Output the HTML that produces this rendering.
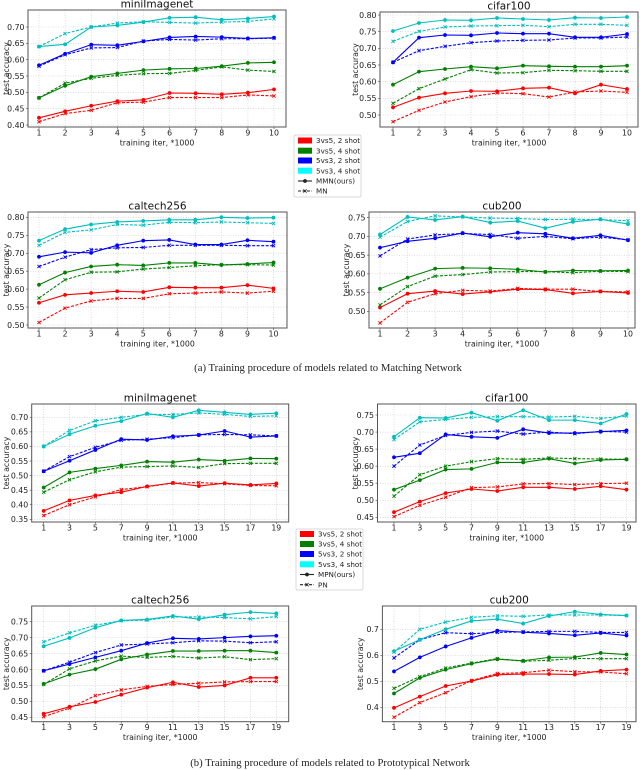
<!DOCTYPE html>
<html><head><meta charset="utf-8">
<style>
html,body{margin:0;padding:0;background:#fff;}
svg{display:block;font-family:"DejaVu Sans","Liberation Sans",sans-serif;}
</style></head>
<body>
<svg id="fig" width="640" height="770" viewBox="0 0 640 770" xmlns="http://www.w3.org/2000/svg"></svg>
<script>
// ---------- data ----------
const itersA = [1,2,3,4,5,6,7,8,9,10];
const itersB = [1,3,5,7,9,11,13,15,17,19];
const seriesNames = ["3vs5, 2 shot","3vs5, 4 shot","5vs3, 2 shot","5vs3, 4 shot"];

// (a) miniImagenet
const a_mini_red_ours = [.422,.442,.459,.473,.477,.498,.497,.494,.499,.509];
const a_mini_red_base = [.410,.435,.445,.468,.470,.484,.484,.484,.492,.489];
const a_mini_green_ours = [.483,.520,.548,.558,.568,.572,.573,.580,.590,.592];
const a_mini_green_base = [.483,.528,.543,.552,.557,.558,.567,.578,.568,.564];
const a_mini_blue_ours = [.583,.618,.646,.644,.656,.668,.671,.669,.665,.667];
const a_mini_blue_base = [.580,.615,.636,.637,.657,.662,.660,.664,.664,.666];
const a_mini_cyan_ours = [.640,.647,.700,.705,.715,.728,.730,.722,.726,.732];
const a_mini_cyan_base = [.640,.680,.700,.712,.716,.714,.712,.715,.717,.725];
const a_mini_ticks = [0.40,0.45,0.50,0.55,0.60,0.65,0.70];
// (a) cifar100
const a_cifar_red_ours = [.523,.552,.565,.572,.571,.580,.582,.565,.591,.578];
const a_cifar_red_base = [.480,.514,.539,.555,.566,.564,.554,.569,.572,.568];
const a_cifar_green_ours = [.591,.630,.638,.645,.640,.648,.646,.645,.645,.648];
const a_cifar_green_base = [.535,.579,.608,.636,.626,.627,.634,.633,.631,.631];
const a_cifar_blue_ours = [.658,.732,.740,.739,.746,.744,.744,.733,.733,.743];
const a_cifar_blue_base = [.658,.693,.706,.717,.722,.724,.725,.731,.731,.734];
const a_cifar_cyan_ours = [.752,.776,.785,.784,.791,.788,.785,.792,.791,.794];
const a_cifar_cyan_base = [.721,.751,.764,.767,.768,.769,.765,.772,.772,.769];
const a_cifar_ticks = [0.50,0.55,0.60,0.65,0.70,0.75,0.80];
// (a) caltech256
const a_cal_red_ours = [.562,.584,.589,.594,.592,.605,.604,.604,.611,.602];
const a_cal_red_base = [.507,.547,.567,.574,.574,.587,.589,.592,.589,.594];
const a_cal_green_ours = [.612,.646,.663,.668,.666,.673,.673,.667,.670,.674];
const a_cal_green_base = [.575,.626,.647,.648,.656,.660,.665,.668,.668,.667];
const a_cal_blue_ours = [.690,.703,.701,.722,.735,.737,.724,.724,.736,.732];
const a_cal_blue_base = [.663,.689,.710,.715,.716,.722,.722,.722,.721,.721];
const a_cal_cyan_ours = [.735,.767,.780,.787,.790,.793,.793,.800,.798,.799];
const a_cal_cyan_base = [.722,.758,.765,.780,.778,.786,.785,.787,.785,.783];
const a_cal_ticks = [0.50,0.55,0.60,0.65,0.70,0.75,0.80];
// (a) cub200
const a_cub_red_ours = [.510,.547,.554,.546,.552,.559,.558,.548,.553,.549];
const a_cub_red_base = [.469,.524,.547,.556,.554,.561,.559,.559,.553,.552];
const a_cub_green_ours = [.560,.590,.614,.616,.615,.612,.605,.609,.608,.609];
const a_cub_green_base = [.517,.566,.594,.598,.605,.606,.606,.603,.607,.606];
const a_cub_blue_ours = [.670,.687,.695,.709,.699,.710,.707,.695,.703,.690];
const a_cub_blue_base = [.648,.693,.704,.708,.705,.695,.700,.694,.698,.691];
const a_cub_cyan_ours = [.705,.752,.744,.753,.737,.741,.722,.739,.746,.733];
const a_cub_cyan_base = [.698,.740,.755,.752,.749,.748,.745,.746,.745,.742];
const a_cub_ticks = [0.50,0.55,0.60,0.65,0.70,0.75];
// (b) miniImagenet
const b_mini_red_ours = [.379,.415,.432,.443,.463,.475,.464,.474,.468,.473];
const b_mini_red_base = [.363,.400,.427,.452,.462,.474,.476,.472,.466,.465];
const b_mini_green_ours = [.459,.511,.524,.535,.548,.546,.555,.551,.559,.558];
const b_mini_green_base = [.443,.486,.513,.529,.531,.533,.528,.541,.542,.542];
const b_mini_blue_ours = [.515,.551,.588,.625,.622,.635,.639,.653,.632,.636];
const b_mini_blue_base = [.515,.565,.597,.621,.625,.630,.640,.641,.640,.636];
const b_mini_cyan_ours = [.600,.642,.671,.687,.713,.700,.724,.717,.710,.714];
const b_mini_cyan_base = [.600,.655,.688,.700,.710,.710,.715,.710,.703,.705];
const b_mini_ticks = [0.35,0.40,0.45,0.50,0.55,0.60,0.65,0.70];
// (b) cifar100
const b_cifar_red_ours = [.465,.496,.521,.533,.527,.538,.538,.533,.541,.531];
const b_cifar_red_base = [.452,.485,.509,.537,.539,.548,.549,.546,.549,.550];
const b_cifar_green_ours = [.531,.559,.590,.592,.611,.611,.622,.608,.618,.620];
const b_cifar_green_base = [.512,.575,.600,.613,.622,.620,.624,.622,.621,.620];
const b_cifar_blue_ours = [.626,.638,.693,.686,.683,.708,.697,.697,.701,.705];
const b_cifar_blue_base = [.600,.662,.690,.699,.703,.694,.700,.695,.702,.700];
const b_cifar_cyan_ours = [.686,.742,.741,.757,.733,.764,.735,.735,.725,.753];
const b_cifar_cyan_base = [.678,.730,.737,.743,.745,.745,.744,.746,.740,.747];
const b_cifar_ticks = [0.45,0.50,0.55,0.60,0.65,0.70,0.75];
// (b) caltech256
const b_cal_red_ours = [.461,.483,.498,.521,.543,.560,.545,.550,.574,.574];
const b_cal_red_base = [.452,.479,.518,.536,.547,.553,.557,.561,.562,.562];
const b_cal_green_ours = [.555,.584,.601,.632,.647,.658,.658,.659,.659,.653];
const b_cal_green_base = [.553,.602,.627,.642,.638,.641,.636,.640,.631,.634];
const b_cal_blue_ours = [.596,.617,.638,.659,.683,.698,.696,.700,.704,.706];
const b_cal_blue_base = [.596,.623,.653,.677,.680,.684,.690,.689,.684,.687];
const b_cal_cyan_ours = [.673,.699,.731,.754,.757,.768,.758,.772,.780,.776];
const b_cal_cyan_base = [.687,.715,.739,.753,.755,.765,.765,.763,.759,.766];
const b_cal_ticks = [0.45,0.50,0.55,0.60,0.65,0.70,0.75];
// (b) cub200
const b_cub_red_ours = [.398,.441,.482,.501,.525,.528,.528,.526,.540,.545];
const b_cub_red_base = [.362,.418,.456,.503,.530,.533,.543,.537,.536,.529];
const b_cub_green_ours = [.453,.513,.545,.568,.585,.579,.592,.593,.609,.603];
const b_cub_green_base = [.473,.518,.551,.570,.587,.577,.581,.588,.587,.587];
const b_cub_blue_ours = [.538,.592,.634,.667,.695,.689,.684,.677,.686,.676];
const b_cub_blue_base = [.590,.660,.687,.683,.688,.690,.692,.692,.688,.688];
const b_cub_cyan_ours = [.616,.660,.700,.732,.739,.722,.751,.768,.757,.753];
const b_cub_cyan_base = [.612,.700,.728,.746,.752,.750,.755,.755,.755,.753];
const b_cub_ticks = [0.4,0.5,0.6,0.7];

// ---------- drawing ----------
const NS = "http://www.w3.org/2000/svg";
const svg = document.getElementById("fig");
const lineColors = ["#ff0000","#008000","#0000ff","#00bfbf"];
const patchColors = ["#ff0000","#008000","#0000ff","#00ffff"];
const colorKeys = ["red","green","blue","cyan"];

function mk(tag, attrs, parent){
  const e = document.createElementNS(NS, tag);
  for (const k in attrs) e.setAttribute(k, attrs[k]);
  (parent||svg).appendChild(e);
  return e;
}

function drawPlot(cfg){
  const g = mk("g", {});
  
  
  const xs = v => cfg.px1 + (v - cfg.xv1) * (cfg.px2 - cfg.px1) / (cfg.xv2 - cfg.xv1);
  const ys = v => cfg.py1 + (v - cfg.yv1) * (cfg.py2 - cfg.py1) / (cfg.yv2 - cfg.yv1);
  cfg.iters.forEach(it => {
    const gl = mk("line", {x1:xs(it), x2:xs(it), y1:cfg.top, y2:cfg.bottom, stroke:"#c8c8c8", "stroke-width":0.6, "stroke-dasharray":"1,1.5"}, g);
    
    
    const t = mk("text", {x:xs(it), y:cfg.bottom+8.5, "font-size":7.8, "text-anchor":"middle", fill:"#222"}, g);
    t.textContent = it;
    
    
    mk("line", {x1:xs(it), x2:xs(it), y1:cfg.bottom, y2:cfg.bottom+2, stroke:"#444", "stroke-width":0.6}, g);
  });
  cfg.yticks.forEach(tv => {
    const gl = mk("line", {x1:cfg.left, x2:cfg.right, y1:ys(tv), y2:ys(tv), stroke:"#c8c8c8", "stroke-width":0.6, "stroke-dasharray":"1,1.5"}, g);
    
    
    const t = mk("text", {x:cfg.left-3.5, y:ys(tv)+2.8, "font-size":7.8, "text-anchor":"end", fill:"#222"}, g);
    t.textContent = tv.toFixed(cfg.dec);
    
    
    mk("line", {x1:cfg.left-2, x2:cfg.left, y1:ys(tv), y2:ys(tv), stroke:"#444", "stroke-width":0.6}, g);
  });
  for (let s = 0; s < 4; s++){
    [["base", true], ["ours", false]].forEach(([kind, dashed]) => {
      const vals = cfg.data[colorKeys[s]][kind];
      const pts = vals.map((v,i) => xs(cfg.iters[i]).toFixed(2)+","+ys(v).toFixed(2)).join(" ");
      const pl = mk("polyline", {points:pts, fill:"none", stroke:lineColors[s], "stroke-width":1.1, "stroke-dasharray": dashed ? "3,1.5" : "none"}, g);
      
      
      vals.forEach((v,i) => {
        const cx = xs(cfg.iters[i]), cy = ys(v);
        if (dashed){
          const p = mk("path", {d:`M${cx-1.6},${cy-1.6}L${cx+1.6},${cy+1.6}M${cx-1.6},${cy+1.6}L${cx+1.6},${cy-1.6}`, stroke:lineColors[s], "stroke-width":0.9}, g);
          
          
        } else {
          const c = mk("circle", {cx:cx, cy:cy, r:1.9, fill:lineColors[s]}, g);
          
          
        }
      });
    });
  }
  const fr = mk("rect", {x:cfg.left, y:cfg.top, width:cfg.right-cfg.left, height:cfg.bottom-cfg.top, fill:"none", stroke:"#555", "stroke-width":1}, g);
  
  
  const ti = mk("text", {x:(cfg.left+cfg.right)/2, y:cfg.top-2.5, "font-size":10.5, "text-anchor":"middle", fill:"#111"}, g);
  ti.textContent = cfg.title;
  
  
  const xl = mk("text", {x:(cfg.left+cfg.right)/2, y:cfg.bottom+18.5, "font-size":7.8, "text-anchor":"middle", fill:"#222"}, g);
  xl.textContent = "training iter, *1000";
  
  
  const yc = (cfg.top+cfg.bottom)/2;
  const yl = mk("text", {x:cfg.ylx, y:yc, "font-size":7.8, "text-anchor":"middle", fill:"#222", transform:`rotate(-90 ${cfg.ylx} ${yc})`}, g);
  yl.textContent = "test accuracy";
  
  
}

function D(r1,r2,g1,g2,b1,b2,c1,c2){
  return {red:{ours:r1,base:r2},green:{ours:g1,base:g2},blue:{ours:b1,base:b2},cyan:{ours:c1,base:c2}};
}

drawPlot({name:"plot-a-miniimagenet", title:"miniImagenet", iters:itersA, left:28, right:286, top:10, bottom:127, px1:39, xv1:1, px2:274, xv2:10, py1:27, yv1:0.70, py2:125, yv2:0.40, yticks:a_mini_ticks, dec:2, ylx:9,
  data:D(a_mini_red_ours,a_mini_red_base,a_mini_green_ours,a_mini_green_base,a_mini_blue_ours,a_mini_blue_base,a_mini_cyan_ours,a_mini_cyan_base)});
drawPlot({name:"plot-a-cifar100", title:"cifar100", iters:itersA, left:380, right:638, top:12, bottom:127, px1:393, xv1:1, px2:627, xv2:10, py1:15, yv1:0.80, py2:115, yv2:0.50, yticks:a_cifar_ticks, dec:2, ylx:358,
  data:D(a_cifar_red_ours,a_cifar_red_base,a_cifar_green_ours,a_cifar_green_base,a_cifar_blue_ours,a_cifar_blue_base,a_cifar_cyan_ours,a_cifar_cyan_base)});
drawPlot({name:"plot-a-caltech256", title:"caltech256", iters:itersA, left:28, right:287, top:212, bottom:328, px1:39, xv1:1, px2:273.5, xv2:10, py1:217.3, yv1:0.80, py2:325, yv2:0.50, yticks:a_cal_ticks, dec:2, ylx:9,
  data:D(a_cal_red_ours,a_cal_red_base,a_cal_green_ours,a_cal_green_base,a_cal_blue_ours,a_cal_blue_base,a_cal_cyan_ours,a_cal_cyan_base)});
drawPlot({name:"plot-a-cub200", title:"cub200", iters:itersA, left:369, right:635, top:212, bottom:328, px1:380, xv1:1, px2:628, xv2:10, py1:217.7, yv1:0.75, py2:311.3, yv2:0.50, yticks:a_cub_ticks, dec:2, ylx:349,
  data:D(a_cub_red_ours,a_cub_red_base,a_cub_green_ours,a_cub_green_base,a_cub_blue_ours,a_cub_blue_base,a_cub_cyan_ours,a_cub_cyan_base)});
drawPlot({name:"plot-b-miniimagenet", title:"miniImagenet", iters:itersB, left:31.7, right:288.7, top:404, bottom:522, px1:43.7, xv1:1, px2:276.3, xv2:19, py1:417.3, yv1:0.70, py2:519.3, yv2:0.35, yticks:b_mini_ticks, dec:2, ylx:9,
  data:D(b_mini_red_ours,b_mini_red_base,b_mini_green_ours,b_mini_green_base,b_mini_blue_ours,b_mini_blue_base,b_mini_cyan_ours,b_mini_cyan_base)});
drawPlot({name:"plot-b-cifar100", title:"cifar100", iters:itersB, left:377.5, right:636, top:404, bottom:522, px1:394, xv1:1, px2:626.5, xv2:19, py1:415, yv1:0.75, py2:517.3, yv2:0.45, yticks:b_cifar_ticks, dec:2, ylx:358,
  data:D(b_cifar_red_ours,b_cifar_red_base,b_cifar_green_ours,b_cifar_green_base,b_cifar_blue_ours,b_cifar_blue_base,b_cifar_cyan_ours,b_cifar_cyan_base)});
drawPlot({name:"plot-b-caltech256", title:"caltech256", iters:itersB, left:31.7, right:288.7, top:606, bottom:721.7, px1:43.7, xv1:1, px2:276.3, xv2:19, py1:621.7, yv1:0.75, py2:717.3, yv2:0.45, yticks:b_cal_ticks, dec:2, ylx:9,
  data:D(b_cal_red_ours,b_cal_red_base,b_cal_green_ours,b_cal_green_base,b_cal_blue_ours,b_cal_blue_base,b_cal_cyan_ours,b_cal_cyan_base)});
drawPlot({name:"plot-b-cub200", title:"cub200", iters:itersB, left:382.4, right:636, top:606, bottom:721.7, px1:394, xv1:1, px2:626.5, xv2:19, py1:629.3, yv1:0.7, py2:707.3, yv2:0.4, yticks:b_cub_ticks, dec:1, ylx:363,
  data:D(b_cub_red_ours,b_cub_red_base,b_cub_green_ours,b_cub_green_base,b_cub_blue_ours,b_cub_blue_base,b_cub_cyan_ours,b_cub_cyan_base)});

function drawLegend(name, x, top, bottom, entryYs, oursLabel, baseLabel){
  const g = mk("g", {});
  
  
  const bx = mk("rect", {x:x, y:top, width:67, height:bottom-top, fill:"#fff", stroke:"#ccc", "stroke-width":0.7, rx:1.5}, g);
  
  
  const labels = seriesNames.concat([oursLabel, baseLabel]);
  labels.forEach((lab, i) => {
    const y = entryYs[i];
    if (i < 4){
      const p = mk("rect", {x:x+4, y:y-3, width:14, height:6, fill:patchColors[i]}, g);
      
      
    } else if (i === 4){
      mk("line", {x1:x+4, x2:x+18, y1:y, y2:y, stroke:"#222", "stroke-width":1.1}, g);
      mk("circle", {cx:x+11, cy:y, r:1.9, fill:"#222"}, g);
    } else {
      mk("line", {x1:x+4, x2:x+18, y1:y, y2:y, stroke:"#222", "stroke-width":1.1, "stroke-dasharray":"3,1.5"}, g);
      mk("path", {d:`M${x+9.4},${y-1.6}L${x+12.6},${y+1.6}M${x+9.4},${y+1.6}L${x+12.6},${y-1.6}`, stroke:"#222", "stroke-width":0.9}, g);
    }
    const t = mk("text", {x:x+22, y:y+2.6, "font-size":7.2, fill:"#222"}, g);
    t.textContent = lab;
    
    
  });
}
drawLegend("legend-matching", 294, 135, 197, [140.5,150.7,160.5,170.7,181,191], "MMN(ours)", "MN");
drawLegend("legend-prototypical", 296, 529, 590, [534,544,554,564.3,574.5,584.7], "MPN(ours)", "PN");

function caption(name, x, y, txt){
  const t = mk("text", {x:x, y:y, "font-size":10.7, "text-anchor":"middle", fill:"#222", "font-family":"Liberation Serif, serif"});
  t.textContent = txt;
  
  
}
caption("caption-a", 328, 371, "(a) Training procedure of models related to Matching Network");
caption("caption-b", 330, 766, "(b) Training procedure of models related to Prototypical Network");
</script>
</body></html>
